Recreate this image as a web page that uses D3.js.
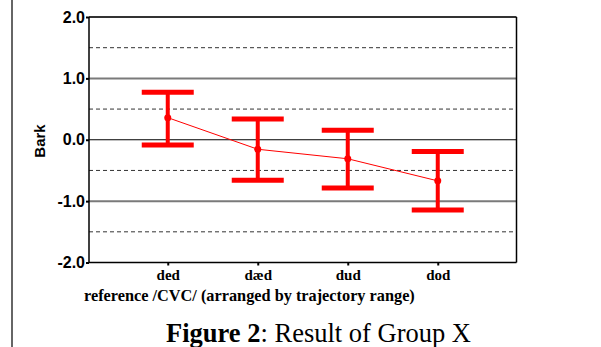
<!DOCTYPE html>
<html>
<head>
<meta charset="utf-8">
<script src="https://cdn.jsdelivr.net/npm/d3@7"></script>
<style>
  body { margin: 0; background: #fff; }
  svg { display: block; }
</style>
</head>
<body>
<script>
const width = 601;
const height = 347;

// data
const categories = ["ded", "dæd", "dud", "dod"];
const means = [0.36, -0.155, -0.31, -0.67];
const upper = [0.775, 0.34, 0.155, -0.19];
const lower = [-0.085, -0.66, -0.785, -1.145];
const yTicks = [-2, -1, 0, 1, 2];
const solidGrid = [-1, 0, 1];
const dashGrid = [-1.5, -0.5, 0.5, 1.5];

const x = d3.scaleLinear().domain([-0.875, 3.875]).range([89, 516.5]);
const y = d3.scaleLinear().domain([-2, 2]).range([262.5, 17]);

const svg = d3.select("body").append("svg")
  .attr("width", width)
  .attr("height", height);

// left page border
svg.append("line")
  .attr("x1", 12).attr("x2", 12)
  .attr("y1", 0).attr("y2", height)
  .attr("stroke", "#666").attr("stroke-width", 2);

// grid
svg.selectAll(".dash")
  .data(dashGrid)
  .enter().append("line")
  .attr("x1", x.range()[0]).attr("x2", x.range()[1])
  .attr("y1", d => y(d)).attr("y2", d => y(d))
  .attr("stroke", "#333").attr("stroke-width", 1)
  .attr("stroke-dasharray", "4,3");

svg.selectAll(".solid")
  .data(solidGrid)
  .enter().append("line")
  .attr("x1", x.range()[0]).attr("x2", x.range()[1])
  .attr("y1", d => y(d)).attr("y2", d => y(d))
  .attr("stroke", d => d === 0 ? "#000" : "#7a7a7a")
  .attr("stroke-width", d => d === 0 ? 1 : 2);

// frame
svg.append("line")
  .attr("x1", x.range()[0]).attr("x2", x.range()[1])
  .attr("y1", y(2)).attr("y2", y(2))
  .attr("stroke", "#333").attr("stroke-width", 2);
svg.append("line")
  .attr("x1", x.range()[1]).attr("x2", x.range()[1])
  .attr("y1", y(2)).attr("y2", y(-2))
  .attr("stroke", "#000").attr("stroke-width", 1.5);
svg.append("line")
  .attr("x1", x.range()[0]).attr("x2", x.range()[1])
  .attr("y1", y(-2)).attr("y2", y(-2))
  .attr("stroke", "#000").attr("stroke-width", 1.5);
svg.append("line")
  .attr("x1", x.range()[0]).attr("x2", x.range()[0])
  .attr("y1", y(2)).attr("y2", y(-2))
  .attr("stroke", "#000").attr("stroke-width", 1.5);

// y axis
const yAxis = d3.axisLeft(y)
  .tickValues(yTicks)
  .tickSize(3)
  .tickPadding(1)
  .tickFormat(d => d.toFixed(1));
const gy = svg.append("g")
  .attr("transform", `translate(${x.range()[0]},0)`)
  .call(yAxis);
gy.select(".domain").remove();
gy.selectAll(".tick line").attr("stroke-width", 2);
gy.selectAll("text")
  .attr("font-family", "Liberation Sans, Arial, sans-serif")
  .attr("font-weight", "bold")
  .attr("font-size", 16)
  .attr("fill", "#000");

svg.append("text")
  .attr("transform", "translate(45,141) rotate(-90)")
  .attr("text-anchor", "middle")
  .attr("font-family", "Liberation Sans, Arial, sans-serif")
  .attr("font-weight", "bold")
  .attr("font-size", 15)
  .text("Bark");

// x axis
const xAxis = d3.axisBottom(x)
  .tickValues(d3.range(categories.length))
  .tickSize(3)
  .tickPadding(4)
  .tickFormat(i => categories[i]);
const gx = svg.append("g")
  .attr("transform", `translate(0,${y(-2)})`)
  .call(xAxis);
gx.select(".domain").remove();
gx.selectAll(".tick line").attr("stroke-width", 2);
gx.selectAll("text")
  .attr("font-family", "Liberation Serif, Times New Roman, serif")
  .attr("font-weight", "bold")
  .attr("font-size", 15)
  .attr("fill", "#000");

svg.append("text")
  .attr("x", 84).attr("y", 301)
  .attr("font-family", "Liberation Serif, Times New Roman, serif")
  .attr("font-weight", "bold")
  .attr("font-size", 16.3)
  .text("reference /CVC/ (arranged by trajectory range)");

// mean line
const line = d3.line()
  .x((d, i) => x(i))
  .y(d => y(d));
svg.append("path")
  .datum(means)
  .attr("d", line)
  .attr("fill", "none")
  .attr("stroke", "#ff0000")
  .attr("stroke-width", 1);

// error bars
const capW = 26;
const bars = svg.selectAll(".bar")
  .data(categories)
  .enter().append("g");
bars.append("line")
  .attr("x1", (d, i) => x(i)).attr("x2", (d, i) => x(i))
  .attr("y1", (d, i) => y(upper[i])).attr("y2", (d, i) => y(lower[i]))
  .attr("stroke", "#ff0000").attr("stroke-width", 4);
bars.append("line")
  .attr("x1", (d, i) => x(i) - capW).attr("x2", (d, i) => x(i) + capW)
  .attr("y1", (d, i) => y(upper[i])).attr("y2", (d, i) => y(upper[i]))
  .attr("stroke", "#ff0000").attr("stroke-width", 5);
bars.append("line")
  .attr("x1", (d, i) => x(i) - capW).attr("x2", (d, i) => x(i) + capW)
  .attr("y1", (d, i) => y(lower[i])).attr("y2", (d, i) => y(lower[i]))
  .attr("stroke", "#ff0000").attr("stroke-width", 5);
bars.append("circle")
  .attr("cx", (d, i) => x(i))
  .attr("cy", (d, i) => y(means[i]))
  .attr("r", 3.5)
  .attr("fill", "#ff0000");

// caption
const cap = svg.append("text")
  .attr("x", 166).attr("y", 342)
  .attr("font-family", "Liberation Serif, Times New Roman, serif")
  .attr("font-size", 26.5);
cap.append("tspan").attr("font-weight", "bold").text("Figure 2");
cap.append("tspan").text(": Result of Group X");
</script>
</body>
</html>
